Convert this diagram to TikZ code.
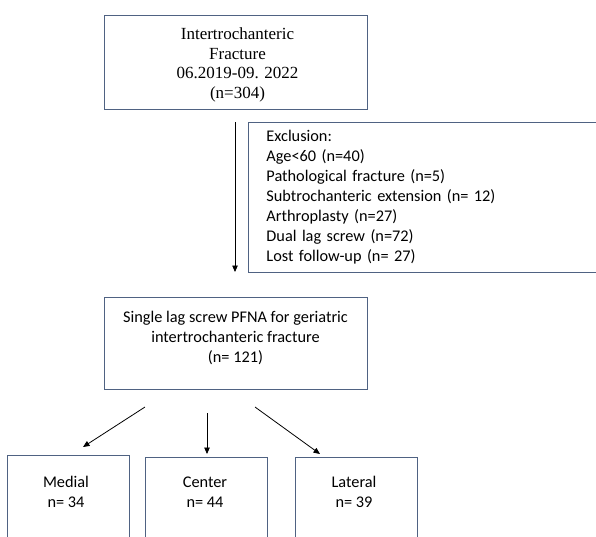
\documentclass[tikz,border=0pt]{standalone}
\usepackage{fontspec}
\setmainfont{Liberation Serif}
\newfontfamily\calibri{Carlito}
\usetikzlibrary{arrows.meta,positioning}
\definecolor{boxline}{RGB}{79,98,130}

\begin{document}
\begin{tikzpicture}[x=1pt,y=-1pt]
\tikzset{
  FlowBox/.style={draw=boxline,line width=0.9pt,inner sep=0pt},
  SerifText/.style={align=center,font=\fontsize{17}{19.5}\selectfont},
  SansText/.style={align=center,font=\calibri\fontsize{16.3}{19.6}\selectfont},
  FlowArrow/.style={-{Triangle[length=6.5pt,width=5.5pt]},line width=0.8pt,black}
}
\useasboundingbox[fill=white] (0,0) rectangle (596,536);
\node[FlowBox,minimum width=263pt,minimum height=94pt] (fracture) at (235.5,62) {};
\node[SerifText] (fracturetxt) at (237.5,65)
  {Intertrochanteric\\Fracture\\06.2019-09. 2022\\(n=304)};
\node[FlowBox,anchor=north west,minimum height=150pt,text width=380pt,inner xsep=18pt,
  align=left,font=\calibri\fontsize{16.3}{20}\selectfont] (exclusion) at (248,122)
  {Exclusion:\\Age<60 (n=40)\\Pathological fracture (n=5)\\Subtrochanteric extension (n= 12)\\
   Arthroplasty (n=27)\\Dual lag screw (n=72)\\Lost follow-up (n= 27)};
\node[FlowBox,minimum width=263pt,minimum height=92pt] (single) at (235.5,343) {};
\node[SansText] (singletxt) at (235.5,338)
  {Single lag screw PFNA for geriatric\\intertrochanteric fracture\\(n= 121)};
\node[FlowBox,anchor=north,minimum width=122pt,minimum height=120pt] (medial) at (68,455) {};
\node[FlowBox,anchor=north,minimum width=122pt,minimum height=120pt] (center) at (206,457) {};
\node[FlowBox,anchor=north,minimum width=122pt,minimum height=120pt] (lateral) at (356,457) {};
\node[SansText] (medialtxt) at (66,492) {Medial\\n= 34};
\node[SansText] (centertxt) at (205,492) {Center\\n= 44};
\node[SansText] (lateraltxt) at (354,492) {Lateral\\n= 39};
\coordinate (exstart) at (235,122);
\coordinate (exend) at (235,272);
\coordinate (mstart) at (145,407);
\coordinate (mend) at (83,447);
\coordinate (cstart) at (207,413);
\coordinate (cend) at (207,454);
\coordinate (lstart) at (255,407);
\coordinate (lend) at (320,454);
\draw[FlowArrow] (exstart) -- (exend);
\draw[FlowArrow] (mstart) -- (mend);
\draw[FlowArrow] (cstart) -- (cend);
\draw[FlowArrow] (lstart) -- (lend);
\end{tikzpicture}
\end{document}
